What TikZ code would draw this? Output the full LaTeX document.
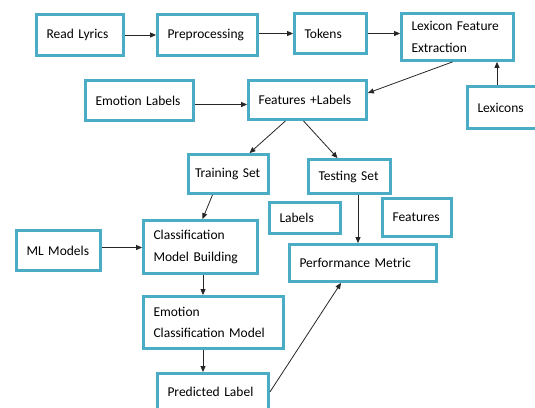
\documentclass[tikz,border=0pt]{standalone}
\usepackage{fontspec}
\setmainfont{Carlito}
\usepackage{tikz}
\usetikzlibrary{arrows.meta, positioning}
\definecolor{boxblue}{RGB}{75,172,198}

\begin{document}
\begin{tikzpicture}[
    x=1pt, y=-1pt,
    blk/.style={draw=boxblue, line width=2.8pt, fill=white, inner xsep=10pt, inner ysep=2pt, align=left, font=\fontsize{13.5}{21.5}\selectfont},
    arrow/.style={-{Triangle[length=6pt, width=5pt]}, line width=0.8pt, black!85},
]
    \useasboundingbox (0,0) rectangle (535,407);

    % Top row
    \node[blk, text width=67pt, minimum height=41pt] (read) at (80,35) {Read Lyrics};
    \node[blk, text width=80pt, minimum height=41pt] (prep) at (207.5,35) {Preprocessing};
    \node[blk, text width=52pt, minimum height=40pt] (tokens) at (330.5,33.5) {Tokens};
    \node[blk, text width=92pt, minimum height=47pt] (lexfe) at (457.5,37) {Lexicon Feature\\Extraction};

    % Second row
    \node[blk, text width=88pt, minimum height=40pt] (emolab) at (139.5,100.5) {Emotion Labels};
    \node[blk, text width=98pt, minimum height=39pt] (featlab) at (307.5,100) {Features +Labels};
    \node[blk, text width=51pt, minimum height=42pt] (lexicons) at (503,107.5) {Lexicons};

    % Train / test split
    \node[blk, text width=67pt, inner xsep=6.5pt, minimum height=39pt] (train) at (228.5,174) {Training Set};
    \node[blk, text width=62pt, minimum height=34pt] (test) at (349.5,176.5) {Testing Set};
    \node[blk, text width=51pt, minimum height=31pt] (labels) at (305,218) {Labels};
    \node[blk, text width=49pt, minimum height=38pt] (features) at (417,217.5) {Features};
    \node[blk, text width=127pt, minimum height=37pt] (perf) at (363,263) {Performance Metric};

    % Model building
    \node[blk, text width=64pt, minimum height=40pt] (mlm) at (58.5,250.5) {ML Models};
    \node[blk, text width=94pt, minimum height=53pt] (cmb) at (200.5,247) {Classification\\Model Building};
    \node[blk, text width=120pt, minimum height=52pt] (ecm) at (213.5,322.5) {Emotion\\Classification Model};
    \node[blk, text width=91pt, minimum height=37pt] (pred) at (213,392) {Predicted Label};

    % Arrows
    \draw[arrow] (read.east) -- (prep.west);
    \draw[arrow] (prep.east |- tokens.west) -- (tokens.west);
    \draw[arrow] (tokens.east) -- (tokens.east -| lexfe.west);
    \draw[arrow] ([xshift=-6pt]lexicons.north) -- ([xshift=-6pt]lexicons.north |- lexfe.south);
    \draw[arrow] ([xshift=-5pt]lexfe.south) -- ([yshift=7pt]featlab.east);
    \draw[arrow] ([yshift=-4pt]emolab.east) -- ([yshift=-4pt]emolab.east -| featlab.west);
    \draw[arrow] ([xshift=-22pt]featlab.south) -- ([xshift=21pt]train.north);
    \draw[arrow] ([xshift=-4pt]featlab.south) -- ([xshift=-12pt]test.north);
    \draw[arrow] ([xshift=-16pt]train.south) -- ([xshift=2pt]cmb.north);
    \draw[arrow] ([yshift=3pt]mlm.east) -- ([yshift=3pt]mlm.east -| cmb.west);
    \draw[arrow] ([xshift=2.5pt]cmb.south) -- ([xshift=2.5pt]cmb.south |- ecm.north);
    \draw[arrow] ([xshift=-10.5pt]ecm.south) -- ([xshift=-10.5pt]ecm.south |- pred.north);
    \draw[arrow] ([xshift=8.5pt]test.south) -- ([xshift=8.5pt]test.south |- perf.north);
    \draw[arrow] (pred.east) -- ([xshift=-22pt]perf.south);
\end{tikzpicture}
\end{document}
